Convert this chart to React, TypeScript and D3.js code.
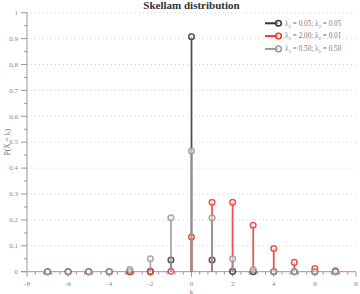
import React from "react";
import * as d3 from "d3";

const ks = [-7, -6, -5, -4, -3, -2, -1, 0, 1, 2, 3, 4, 5, 6, 7];
const pmfA = [0, 0, 0, 0, 0, 0.0011, 0.0453, 0.9071, 0.0453, 0.0011, 0, 0, 0, 0, 0];
const pmfB = [0, 0, 0, 0, 0, 0, 0.0013, 0.134, 0.2681, 0.2684, 0.1791, 0.0896, 0.0359, 0.012, 0.0034];
const pmfC = [0, 0, 0.0001, 0.001, 0.0082, 0.0499, 0.2079, 0.4658, 0.2079, 0.0499, 0.0082, 0.001, 0.0001, 0, 0];
const lambda1 = ["0.05", "2.00", "0.50"];
const lambda2 = ["0.05", "0.01", "0.50"];
const xTicks = [-8, -6, -4, -2, 0, 2, 4, 6, 8];
const yTicks = [0, 0.1, 0.2, 0.3, 0.4, 0.5, 0.6, 0.7, 0.8, 0.9, 1];

const colors = ["#333333", "#e8392c", "#999999"];
const W = 360;
const H = 294;
const margin = { top: 12.7, right: 4, bottom: 22.3, left: 27 };
const font = "'Liberation Serif', 'Times New Roman', serif";

export default function App() {
  const x = d3.scaleLinear().domain([-8, 8]).range([margin.left, W - margin.right]);
  const y = d3.scaleLinear().domain([0, 1]).range([H - margin.bottom, margin.top]);
  const series = [pmfA, pmfB, pmfC];

  // minor ticks: every 0.4 on x, every 0.05 on y
  const xMinor = d3.range(-8, 8.001, 0.4).filter((v) => Math.abs(v / 2 - Math.round(v / 2)) > 0.01);
  const yMinor = d3.range(0.05, 1, 0.1);

  return (
    <svg width={W} height={H} style={{ position: "absolute", left: 0, top: 0 }} fontFamily={font}>
      <rect width={W} height={H} fill="#fff" />
      {/* grid */}
      {yTicks.slice(1).map((t) => (
        <line key={"g" + t} x1={x(-8)} x2={x(8)} y1={y(t)} y2={y(t)} stroke="#c8c8c8" strokeWidth={0.8} strokeDasharray="1 3" />
      ))}
      {/* y axis */}
      <line x1={x(-8)} x2={x(-8)} y1={y(1)} y2={y(0)} stroke="#999" strokeWidth={1} />
      {yTicks.map((t) => (
        <g key={"y" + t}>
          <line x1={x(-8) - 6} x2={x(-8)} y1={y(t)} y2={y(t)} stroke="#999" />
          <text x={x(-8) - 9} y={y(t)} dy="0.32em" textAnchor="end" fontSize={7} fill="#888">
            {d3.format("~g")(t)}
          </text>
        </g>
      ))}
      {yMinor.map((t) => (
        <line key={"ym" + t} x1={x(-8) - 3} x2={x(-8)} y1={y(t)} y2={y(t)} stroke="#999" />
      ))}
      {/* x axis */}
      <line x1={x(-8) - 6} x2={x(8)} y1={y(0)} y2={y(0)} stroke="#999" strokeWidth={1} />
      {xTicks.map((t) => (
        <g key={"x" + t}>
          <line x1={x(t)} x2={x(t)} y1={y(0)} y2={y(0) + 5} stroke="#999" />
          <text x={x(t)} y={y(0) + 14} textAnchor="middle" fontSize={7} fill="#888">
            {t}
          </text>
        </g>
      ))}
      {xMinor.map((t) => (
        <line key={"xm" + t} x1={x(t)} x2={x(t)} y1={y(0)} y2={y(0) + 3} stroke="#999" />
      ))}
      {/* stems */}
      {series.map((vals, si) => (
        <g key={"s" + si} opacity={0.85}>
          {ks.map((k, i) => (
            <g key={k}>
              <line x1={x(k)} x2={x(k)} y1={y(0)} y2={y(vals[i])} stroke={colors[si]} strokeWidth={1.8} />
              <circle cx={x(k)} cy={y(vals[i])} r={2.8} fill="#fff" fillOpacity={0.6} stroke={colors[si]} strokeWidth={1.5} />
            </g>
          ))}
        </g>
      ))}
      {/* legend */}
      {colors.map((c, i) => {
        const ly = 23.3 + i * 12.8;
        return (
          <g key={"l" + i}>
            <line x1={265} x2={278.5} y1={ly} y2={ly} stroke={c} strokeWidth={2} />
            <circle cx={278.5} cy={ly} r={2.8} fill="#fff" fillOpacity={0.6} stroke={c} strokeWidth={1.5} />
            <text x={285} y={ly} dy="0.32em" fontSize={7.2} fill="#777">
              λ<tspan fontSize={5} dy={2}>1</tspan>
              <tspan dy={-2}>{" = " + lambda1[i] + ";  λ"}</tspan>
              <tspan fontSize={5} dy={2}>2</tspan>
              <tspan dy={-2}>{" = " + lambda2[i]}</tspan>
            </text>
          </g>
        );
      })}
      {/* titles */}
      <text x={x(0)} y={8.5} textAnchor="middle" fontSize={11} fontWeight="bold" fill="#333">
        Skellam distribution
      </text>
      <text x={x(0)} y={293.5} textAnchor="middle" fontSize={7} fill="#777">
        k
      </text>
      <text transform={`translate(10,${y(0.5)}) rotate(-90)`} textAnchor="middle" fontSize={7.5} fill="#777">
        P(X = k)
      </text>
    </svg>
  );
}
